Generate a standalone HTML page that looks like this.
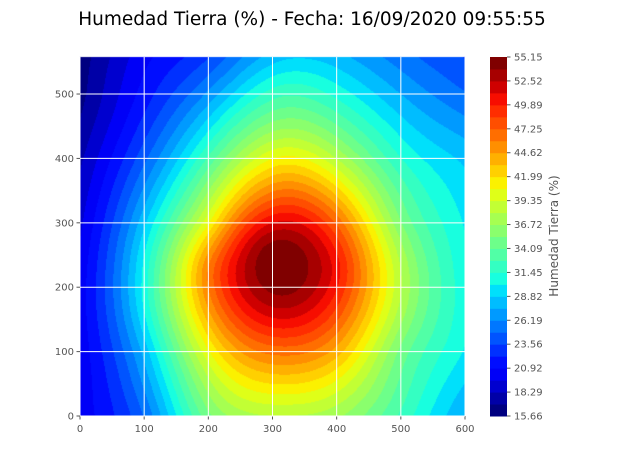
<!DOCTYPE html>
<html><head><meta charset="utf-8">
<style>
html,body{margin:0;padding:0;background:#fff;}
#wrap{position:relative;width:624px;height:468px;overflow:hidden;font-family:"DejaVu Sans","Liberation Sans",sans-serif;}
canvas{position:absolute;left:0;top:0;}
svg{position:absolute;left:0;top:0;}
</style></head>
<body>
<div id="wrap">
<canvas id="cv" width="624" height="468"></canvas>
<svg id="sv" width="624" height="468">
<text x="312" y="25" text-anchor="middle" font-size="18.5" fill="#000">Humedad Tierra (%) - Fecha: 16/09/2020 09:55:55</text>
<text transform="translate(558,236) rotate(-90)" text-anchor="middle" font-size="12" fill="#555">Humedad Tierra (%)</text>
</svg>
</div>
<script>
// ---- data ----
const gridX = [0, 100, 200, 315, 400, 500, 600];
const gridY = [0, 100, 230, 300, 400, 500, 557];
const row0   = [20.0, 25.0, 35.0, 38.0, 37.0, 32.5, 27.5];
const row100 = [20.0, 28.0, 40.5, 46.5, 44.0, 35.0, 30.0];
const row230 = [20.0, 30.5, 46.0, 55.15, 50.5, 38.0, 30.5];
const row300 = [19.3, 28.5, 40.5, 51.5, 47.0, 35.5, 30.0];
const row400 = [18.0, 24.5, 33.0, 41.0, 38.0, 31.5, 28.5];
const row500 = [16.5, 21.5, 26.5, 32.5, 31.0, 27.5, 25.0];
const row557 = [16.2, 20.5, 23.5, 28.5, 28.0, 25.5, 23.5];
const rows = [row0, row100, row230, row300, row400, row500, row557];
const extraX = [270, 360, 315, 315, 283, 347, 283, 347];
const extraY = [230, 230, 277, 183, 263, 263, 197, 197];
const extraV = [53.6, 53.6, 53.6, 53.6, 53.6, 53.6, 53.6, 53.6];
const levelMin = 15.66, levelMax = 55.15, nBands = 30;
const xTicks = [0, 100, 200, 300, 400, 500, 600];
const yTicks = [0, 100, 200, 300, 400, 500];
const cbLabels = ["15.66","18.29","20.92","23.56","26.19","28.82","31.45","34.09","36.72","39.35","41.99","44.62","47.25","49.89","52.52","55.15"];

// ---- axes ----
const PL=80, PR=465, PT=57, PB=416, XMAX=600, YMAX=557.5;
const sx = v => PL + v/XMAX*(PR-PL);
const sy = v => PB - v/YMAX*(PB-PT);
const ix = p => (p-PL)/(PR-PL)*XMAX;
const iy = p => (PB-p)/(PB-PT)*YMAX;
const CBL=490, CBR=507;
const cby = v => PB - (v-levelMin)/(levelMax-levelMin)*(PB-PT);

function seg(pts,t){for(let i=0;i<pts.length-1;i++){const[a,va]=pts[i],[b,vb]=pts[i+1];if(t<=b)return va+(vb-va)*(t-a)/(b-a);}return pts[pts.length-1][1];}
function jet(t){
  const r=seg([[0,0],[0.35,0],[0.66,1],[0.89,1],[1,0.5]],t);
  const g=seg([[0,0],[0.125,0],[0.375,1],[0.64,1],[0.91,0],[1,0]],t);
  const b=seg([[0,0.5],[0.11,1],[0.34,1],[0.65,0],[1,0]],t);
  return [r,g,b].map(v=>Math.round(v*255));
}
function bandColor(i){return jet(i/(nBands-1));}

// ---- thin-plate spline through the read values ----
const P=[];
rows.forEach((r,j)=>r.forEach((v,i)=>P.push([gridX[i]/100,gridY[j]/100,v])));
extraV.forEach((v,i)=>P.push([extraX[i]/100,extraY[i]/100,v]));
const N=P.length;
const K=(r2)=>r2<=0?0:0.5*r2*Math.log(r2);
const M=[];
for(let i=0;i<N+3;i++){M.push(new Array(N+4).fill(0));}
for(let i=0;i<N;i++){
  for(let j=0;j<N;j++){const dx=P[i][0]-P[j][0],dy=P[i][1]-P[j][1];M[i][j]=K(dx*dx+dy*dy);}
  M[i][N]=1;M[i][N+1]=P[i][0];M[i][N+2]=P[i][1];
  M[N][i]=1;M[N+1][i]=P[i][0];M[N+2][i]=P[i][1];
  M[i][N+3]=P[i][2];
}
(function solve(){
  const n=N+3;
  for(let c=0;c<n;c++){
    let p=c;for(let r=c+1;r<n;r++)if(Math.abs(M[r][c])>Math.abs(M[p][c]))p=r;
    [M[c],M[p]]=[M[p],M[c]];
    for(let r=0;r<n;r++){if(r===c)continue;const f=M[r][c]/M[c][c];if(f===0)continue;for(let k=c;k<=n;k++)M[r][k]-=f*M[c][k];}
  }
})();
const W=[];for(let i=0;i<N+3;i++)W.push(M[i][N+3]/M[i][i]);
function field(x,y){
  x/=100;y/=100;let s=W[N]+W[N+1]*x+W[N+2]*y;
  for(let i=0;i<N;i++){const dx=x-P[i][0],dy=y-P[i][1];s+=W[i]*K(dx*dx+dy*dy);}
  return s;
}

// ---- contour fill ----
const cv=document.getElementById('cv'), ctx=cv.getContext('2d');
const w=PR-PL,h=PB-PT;
const img=ctx.createImageData(w,h);
for(let py=0;py<h;py++){
  const yv=iy(PT+py+0.5);
  for(let px=0;px<w;px++){
    const v=field(ix(PL+px+0.5),yv);
    let k=Math.floor((v-levelMin)/(levelMax-levelMin)*nBands);
    k=Math.max(0,Math.min(nBands-1,k));
    const col=bandColor(k),o=(py*w+px)*4;
    img.data[o]=col[0];img.data[o+1]=col[1];img.data[o+2]=col[2];img.data[o+3]=255;
  }
}
ctx.putImageData(img,PL,PT);

// ---- svg overlay ----
const NS='http://www.w3.org/2000/svg', sv=document.getElementById('sv');
function mk(tag,attrs,txt){const e=document.createElementNS(NS,tag);for(const k in attrs)e.setAttribute(k,attrs[k]);if(txt!==undefined)e.textContent=txt;sv.appendChild(e);return e;}
xTicks.forEach(t=>{
  const g=mk('line',{x1:sx(t),x2:sx(t),y1:PT,y2:PB,stroke:'#fff','stroke-width':1});
  
  
  const tk=mk('line',{x1:sx(t),x2:sx(t),y1:PB,y2:PB+3.5,stroke:'#555','stroke-width':1});
  
  
  const lb=mk('text',{x:sx(t),y:PB+16,'text-anchor':'middle','font-size':10,fill:'#555'},String(t));
  
  
});
yTicks.forEach(t=>{
  const g=mk('line',{x1:PL,x2:PR,y1:sy(t),y2:sy(t),stroke:'#fff','stroke-width':1});
  
  
  const tk=mk('line',{x1:PL-3.5,x2:PL,y1:sy(t),y2:sy(t),stroke:'#555','stroke-width':1});
  
  
  const lb=mk('text',{x:PL-6,y:sy(t)+3.5,'text-anchor':'end','font-size':10,fill:'#555'},String(t));
  
  
});
const step=(levelMax-levelMin)/nBands;
for(let i=0;i<nBands;i++){
  const c=bandColor(i);
  const y1=cby(levelMin+(i+1)*step), y2=cby(levelMin+i*step);
  const r=mk('rect',{x:CBL,y:y1,width:CBR-CBL,height:y2-y1+0.5,fill:`rgb(${c[0]},${c[1]},${c[2]})`});
  
  
}
cbLabels.forEach(s=>{
  const v=parseFloat(s), y=cby(v);
  const tk=mk('line',{x1:CBR,x2:CBR+3.5,y1:y,y2:y,stroke:'#555','stroke-width':1});
  
  
  const lb=mk('text',{x:CBR+7,y:y+3.5,'font-size':10,fill:'#555'},s);
  
  
});
</script>
</body></html>
